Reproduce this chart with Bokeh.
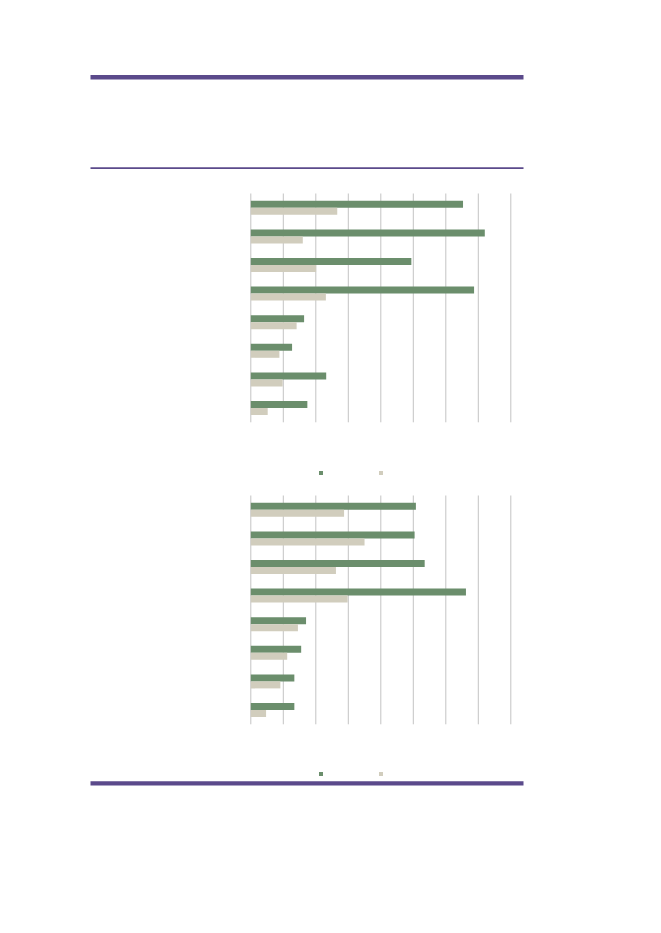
from bokeh.plotting import figure
from bokeh.layouts import column
from bokeh.models import Range1d, Legend, LegendItem
from bokeh.transform import dodge
from bokeh.embed import file_html
from bokeh.resources import INLINE

# ---- data -------------------------------------------------------------
categories = ["1", "2", "3", "4", "5", "6", "7", "8"]
ticks = [0, 10, 20, 30, 40, 50, 60, 70, 80]

chart1_green = [65.3, 72.0, 49.4, 68.7, 16.4, 12.7, 23.2, 17.4]
chart1_beige = [26.6, 16.0, 20.1, 23.1, 14.1, 8.8, 9.8, 5.2]

chart2_green = [50.8, 50.4, 53.5, 66.2, 17.0, 15.5, 13.4, 13.4]
chart2_beige = [28.7, 35.0, 26.2, 29.8, 14.5, 11.2, 9.1, 4.7]

# ---- style ------------------------------------------------------------
GREEN = "#6b8e6c"
BEIGE = "#d1cdbd"
PURPLE = "#5b4a8b"
GRID = "#c4c4c4"

W = 620
X0_PX = 250.3      # pixel position of value 0 within figure
UNIT_PX = 3.25     # pixels per value unit
ROW_PX = 28.6
BAR_H = 7.0 / ROW_PX


def base_fig(h, xr, yr):
    p = figure(width=W, height=h, x_range=xr, y_range=yr,
               output_backend="svg", toolbar_location=None,
               min_border=0, min_border_left=0, min_border_right=0,
               min_border_top=0, min_border_bottom=0)
    p.axis.visible = False
    p.grid.visible = False
    p.outline_line_color = None
    p.background_fill_color = None
    p.border_fill_color = None
    return p


def chart(green, beige, h, top_pad_px, legend_y):
    n = len(categories)
    xr = Range1d(-X0_PX / UNIT_PX, (W - X0_PX) / UNIT_PX)
    bottom_pad_px = h - top_pad_px - n * ROW_PX
    yr = Range1d(n - 0.5 + bottom_pad_px / ROW_PX, -0.5 - top_pad_px / ROW_PX)
    p = base_fig(h, xr, yr)
    idx = list(range(n))
    p.segment(x0=ticks, x1=ticks, y0=[-0.5] * len(ticks), y1=[n - 0.5] * len(ticks),
              line_color=GRID, line_width=1)
    src = dict(y=idx, g=green, b=beige)
    rg = p.hbar(y=dodge("y", -BAR_H / 2), right="g", left=0, height=BAR_H,
                source=src, fill_color=GREEN, line_color=None)
    rb = p.hbar(y=dodge("y", BAR_H / 2), right="b", left=0, height=BAR_H,
                source=src, fill_color=BEIGE, line_color=None)
    leg = Legend(items=[LegendItem(label="", renderers=[rg]),
                        LegendItem(label="", renderers=[rb])],
                 orientation="horizontal", location=(318, legend_y),
                 glyph_width=5, glyph_height=5, label_standoff=0,
                 label_width=0, label_height=0, spacing=55,
                 padding=0, margin=0, border_line_color=None,
                 background_fill_alpha=0, label_text_font_size="1px")
    p.add_layout(leg)
    return p


# header (page y 0 -> 190)
hh = 190
header = base_fig(hh, Range1d(0, W), Range1d(hh, 0))
header.quad(left=[90], right=[523], top=[74.4], bottom=[79.0],
            fill_color=PURPLE, line_color=None)
header.quad(left=[90], right=[523], top=[166.8], bottom=[168.4],
            fill_color=PURPLE, line_color=None)

c1 = chart(chart1_green, chart1_beige, 302, 3, 17)
c2 = chart(chart2_green, chart2_beige, 286, 3, 2)

fh = 22
footer = base_fig(fh, Range1d(0, W), Range1d(fh, 0))
footer.quad(left=[90], right=[523], top=[2.7], bottom=[7.0],
            fill_color=PURPLE, line_color=None)

layout = column(header, c1, c2, footer, spacing=0)
open("out.html", "w").write(file_html(layout, INLINE))
